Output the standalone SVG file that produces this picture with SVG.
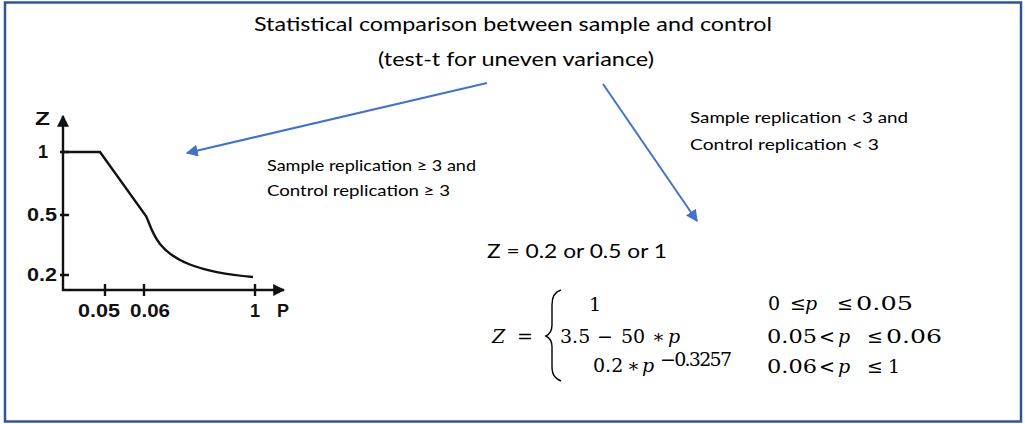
<svg xmlns="http://www.w3.org/2000/svg" width="1025" height="424" viewBox="0 0 1025 424">
<style>
.t{font-family:Lato,"Liberation Sans",sans-serif;fill:#000}
.m{font-family:"DejaVu Serif","Liberation Serif",serif;fill:#000;font-size:19px}
.i{font-style:italic}
.g{font-family:"Liberation Sans",Arial,sans-serif;fill:#111;font-size:18px;font-weight:bold}
.ax{stroke:#111;stroke-width:2.4;fill:none}
.conn{stroke:#4472C4;stroke-width:2;fill:none}
</style>
<defs>
<marker id="ah" viewBox="0 0 10 10" refX="9" refY="5" markerWidth="6" markerHeight="6" markerUnits="strokeWidth" orient="auto">
<path d="M0,0 L10,5 L0,10 z" fill="#4472C4"/>
</marker>
<marker id="kh" viewBox="0 0 10 10" refX="9" refY="5" markerWidth="5" markerHeight="5" markerUnits="strokeWidth" orient="auto">
<path d="M0,0 L10,5 L0,10 z" fill="#111"/>
</marker>
</defs>
<rect x="5" y="2.5" width="1016" height="419" fill="#fff" stroke="#2F5597" stroke-width="2.5"/>

<g id="title">
<text class="t" x="513" y="31" font-size="20" text-anchor="middle" textLength="518" lengthAdjust="spacingAndGlyphs">Statistical comparison between sample and control</text>
<text class="t" x="516" y="66" font-size="20" text-anchor="middle" textLength="276" lengthAdjust="spacingAndGlyphs">(test-t for uneven variance)</text>
</g>

<g id="graph">
<line class="ax" x1="63" y1="291" x2="63" y2="116" marker-end="url(#kh)"/>
<line class="ax" x1="62" y1="290" x2="284" y2="290" marker-end="url(#kh)"/>
<path class="ax" d="M60,152 H69 M60,215 H69 M60,275 H69 M105,284 V296 M144,284 V296 M255,284 V296"/>
<path class="ax" d="M63,152 L100,152 L146,216 C150,224 151,232 160,244 C172,259 195,272 253,277"/>
<text class="g" x="35" y="125" font-size="14" textLength="15" lengthAdjust="spacingAndGlyphs">Z</text>
<text class="g" x="38" y="158">1</text>
<text class="g" x="27" y="221" textLength="30" lengthAdjust="spacingAndGlyphs">0.5</text>
<text class="g" x="27" y="281" textLength="30" lengthAdjust="spacingAndGlyphs">0.2</text>
<text class="g" x="78" y="317" textLength="42" lengthAdjust="spacingAndGlyphs">0.05</text>
<text class="g" x="130" y="317" textLength="40" lengthAdjust="spacingAndGlyphs">0.06</text>
<text class="g" x="250" y="317">1</text>
<text class="g" x="277" y="317">P</text>
</g>

<g id="connectors">
<line class="conn" x1="487" y1="83" x2="187" y2="153" marker-end="url(#ah)"/>
<line class="conn" x1="603" y1="84" x2="697" y2="221" marker-end="url(#ah)"/>
</g>

<g id="label-left">
<text class="t" x="267" y="171" font-size="16" textLength="209" lengthAdjust="spacingAndGlyphs">Sample replication ≥ 3 and</text>
<text class="t" x="267" y="196" font-size="16" textLength="183" lengthAdjust="spacingAndGlyphs">Control replication ≥ 3</text>
</g>

<g id="label-right">
<text class="t" x="690" y="123" font-size="16" textLength="218" lengthAdjust="spacingAndGlyphs">Sample replication &lt; 3 and</text>
<text class="t" x="690" y="150" font-size="16" textLength="189" lengthAdjust="spacingAndGlyphs">Control replication &lt; 3</text>
</g>

<g id="result-text">
<text class="t" x="487" y="258" font-size="19" textLength="180" lengthAdjust="spacingAndGlyphs">Z = 0.2 or 0.5 or 1</text>
</g>

<g id="equation">
<text class="m i" x="492" y="343">Z</text>
<text class="m" x="517" y="343">=</text>
<path d="M561,290 C554,292 552,297 552,305 L552,325 C552,331 550,334 546,336 C550,338 552,341 552,347 L552,366 C552,374 554,378 561,381" fill="none" stroke="#000" stroke-width="1.4"/>
<text class="m" x="589" y="311">1</text>
<text class="m" y="343"><tspan x="560">3.5</tspan><tspan x="597">−</tspan><tspan x="621">50</tspan><tspan x="652">∗</tspan><tspan x="668" class="i">p</tspan></text>
<text class="m" y="372"><tspan x="593">0.2</tspan><tspan x="627">∗</tspan><tspan x="642" class="i">p</tspan></text>
<text class="m" x="660" y="366" font-size="13" textLength="72" lengthAdjust="spacing">−0.3257</text>
<text class="m" y="310"><tspan x="768">0</tspan><tspan x="790">≤</tspan><tspan x="805" class="i">p</tspan><tspan x="837">≤</tspan><tspan x="856" textLength="57" lengthAdjust="spacingAndGlyphs">0.05</tspan></text>
<text class="m" y="343"><tspan x="767" textLength="50" lengthAdjust="spacingAndGlyphs">0.05</tspan><tspan x="819">&lt;</tspan><tspan x="838" class="i">p</tspan><tspan x="867">≤</tspan><tspan x="886" textLength="56" lengthAdjust="spacingAndGlyphs">0.06</tspan></text>
<text class="m" y="373"><tspan x="767" textLength="50" lengthAdjust="spacingAndGlyphs">0.06</tspan><tspan x="819">&lt;</tspan><tspan x="838" class="i">p</tspan><tspan x="867">≤</tspan><tspan x="888">1</tspan></text>
</g>
</svg>
